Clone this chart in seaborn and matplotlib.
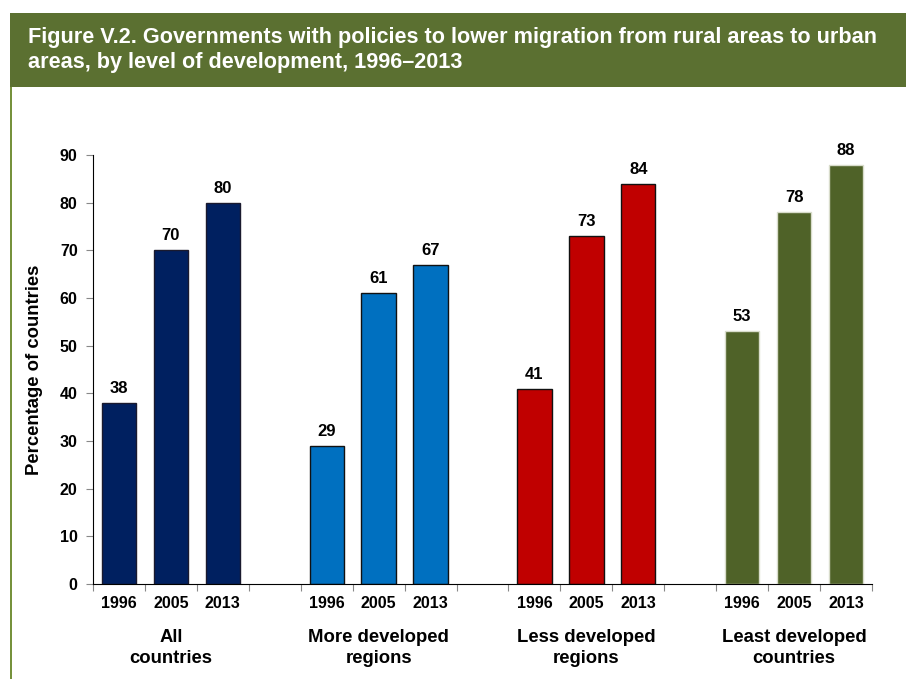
import matplotlib
matplotlib.use("Agg")
import matplotlib.pyplot as plt
from matplotlib.patches import Rectangle
import numpy as np
import pandas as pd
import seaborn as sns

groups = ["All\ncountries", "More developed\nregions", "Less developed\nregions", "Least developed\ncountries"]
years = ["1996", "2005", "2013"]
all_countries = [38, 70, 80]
more_developed = [29, 61, 67]
less_developed = [41, 73, 84]
least_developed = [53, 78, 88]
colors = ["#002060", "#0070C0", "#C00000", "#4F6228"]
edge_colors = ["#1a1a2e", "#111111", "#111111", "#d8dccb"]
title = ("Figure V.2. Governments with policies to lower migration from rural areas to urban\n"
         "areas, by level of development, 1996\u20132013")

series = [all_countries, more_developed, less_developed, least_developed]
rows = []
for gi, (g, vals) in enumerate(zip(groups, series)):
    for yi, (yr, v) in enumerate(zip(years, vals)):
        rows.append({"group": g, "year": yr, "slot": gi * 4 + yi, "value": v})
df = pd.DataFrame(rows)

sns.set_style("ticks")
plt.rcParams["font.family"] = ["Liberation Sans", "DejaVu Sans"]
plt.rcParams["text.color"] = "black"
plt.rcParams["xtick.labelcolor"] = "black"
plt.rcParams["ytick.labelcolor"] = "black"
plt.rcParams["axes.labelcolor"] = "black"

fig = plt.figure(figsize=(9.06, 6.79), dpi=100)
W, H = 906, 679

# header band and left rule
fig.patches.append(Rectangle((10 / W, 1 - 87 / H), 1 - 10 / W, 74 / H,
                             transform=fig.transFigure, facecolor="#5B7031",
                             edgecolor="none", zorder=0))
fig.patches.append(Rectangle((10 / W, 0), 2 / W, 1 - 87 / H,
                             transform=fig.transFigure, facecolor="#76923C",
                             edgecolor="none", zorder=0))
fig.text(28 / W, 1 - 50 / H, title, color="white", fontsize=15.6, fontweight="bold",
         ha="left", va="center", linespacing=1.2)

ax = fig.add_axes([93 / W, 1 - 584 / H, (872 - 93) / W, (584 - 155) / H])
sns.barplot(data=df, x="slot", y="value", hue="group", palette=colors,
            native_scale=True, width=0.66, dodge=False, legend=False, ax=ax,
            saturation=1, err_kws={"linewidth": 0})

for gi, cont in enumerate(ax.containers):
    for bar in cont:
        bar.set_edgecolor(edge_colors[gi])
        bar.set_linewidth(1.0)
    ax.bar_label(cont, labels=[f"{v:g}" for v in series[gi]], padding=5,
                 fontsize=12, fontweight="bold", color="black")

ax.set_xlim(-0.5, 14.5)
ax.set_ylim(0, 90)
ax.set_yticks(np.arange(0, 91, 10))
ax.tick_params(axis="y", labelsize=11.5, length=5, color="#888888", pad=6)
for lab in ax.get_yticklabels():
    lab.set_fontweight("bold")

# boundary ticks between slots, year labels under each bar
ax.set_xticks(np.arange(-0.5, 15, 1.0))
ax.set_xticklabels([])
ax.tick_params(axis="x", length=5, color="#888888")
centers = df["slot"].to_numpy()
ax.set_xticks(centers, minor=True)
ax.set_xticklabels(df["year"].tolist(), minor=True, fontsize=11.5, fontweight="bold")
ax.tick_params(axis="x", which="minor", length=0, pad=9)

for gi, g in enumerate(groups):
    ax.text(gi * 4 + 1, -0.104, g, transform=ax.get_xaxis_transform(), ha="center",
            va="top", fontsize=13.3, fontweight="bold", linespacing=1.32)

ax.set_xlabel("")
ax.set_ylabel("Percentage of countries", fontsize=13.3, fontweight="bold", labelpad=12)
for s in ["top", "right"]:
    ax.spines[s].set_visible(False)
ax.spines["left"].set_color("black")
ax.spines["bottom"].set_color("black")

fig.savefig("out.png", dpi=100)
